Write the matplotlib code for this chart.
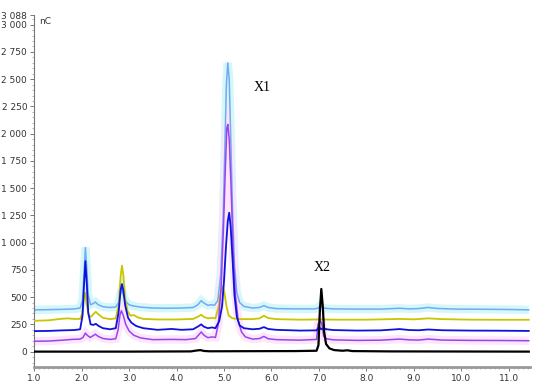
"""
Cromatogramma a cinque tracce (nC vs tempo di ritenzione, min).
Valori letti a occhio dal grafico di riferimento.
"""

import matplotlib.pyplot as plt
from matplotlib.ticker import FixedLocator, MultipleLocator

# (tempo, nC) per ogni traccia
cyan = [(1.0, 383), (1.3, 385), (1.6, 388), (1.85, 392), (1.97, 400), (2.02, 470),
        (2.05, 700), (2.08, 955), (2.11, 760), (2.14, 520), (2.19, 430), (2.24, 440),
        (2.29, 455), (2.35, 430), (2.45, 412), (2.6, 405), (2.72, 410), (2.78, 450),
        (2.82, 530), (2.85, 570), (2.88, 520), (2.93, 460), (3.0, 430), (3.1, 418),
        (3.25, 408), (3.5, 400), (3.8, 398), (4.1, 400), (4.35, 405), (4.45, 430),
        (4.52, 468), (4.58, 445), (4.66, 425), (4.74, 430), (4.8, 425), (4.87, 470),
        (4.93, 700), (4.98, 1200), (5.02, 1900), (5.05, 2450), (5.08, 2650), (5.11, 2500),
        (5.14, 2000), (5.18, 1300), (5.22, 800), (5.27, 540), (5.33, 450), (5.42, 415),
        (5.6, 400), (5.75, 405), (5.84, 422), (5.93, 405), (6.1, 395), (6.5, 392),
        (6.9, 392), (6.98, 398), (7.02, 420), (7.06, 410), (7.12, 398), (7.3, 392),
        (7.8, 390), (8.3, 390), (8.7, 398), (8.9, 392), (9.1, 395), (9.3, 405),
        (9.5, 396), (9.9, 390), (10.4, 389), (10.9, 387), (11.2, 385), (11.42, 383)]

yellow = [(1.0, 283), (1.3, 287), (1.55, 300), (1.7, 305), (1.85, 300), (1.97, 300),
          (2.02, 360), (2.05, 480), (2.08, 540), (2.11, 430), (2.15, 330), (2.2, 320),
          (2.25, 345), (2.3, 365), (2.36, 340), (2.45, 310), (2.6, 298), (2.72, 305),
          (2.78, 420), (2.82, 680), (2.85, 790), (2.88, 700), (2.92, 480), (2.97, 370),
          (3.03, 330), (3.1, 335), (3.18, 315), (3.3, 300), (3.6, 295), (4.0, 295),
          (4.35, 300), (4.45, 320), (4.52, 338), (4.58, 318), (4.66, 305), (4.75, 310),
          (4.82, 305), (4.88, 400), (4.93, 540), (4.97, 600), (5.01, 540), (5.05, 420),
          (5.1, 330), (5.18, 305), (5.35, 298), (5.6, 298), (5.75, 305), (5.84, 330),
          (5.93, 308), (6.1, 298), (6.6, 293), (7.0, 295), (7.4, 293), (8.0, 293),
          (8.7, 300), (9.0, 296), (9.3, 305), (9.6, 298), (10.2, 293), (10.8, 292),
          (11.42, 292)]

blue = [(1.0, 188), (1.3, 190), (1.6, 195), (1.85, 198), (1.97, 205), (2.02, 330),
        (2.05, 600), (2.08, 830), (2.11, 620), (2.14, 360), (2.19, 250), (2.25, 245),
        (2.3, 255), (2.36, 235), (2.45, 215), (2.6, 205), (2.72, 215), (2.78, 360),
        (2.82, 560), (2.85, 620), (2.88, 560), (2.92, 420), (2.98, 310), (3.05, 265),
        (3.15, 235), (3.3, 215), (3.6, 200), (3.9, 208), (4.1, 200), (4.35, 205),
        (4.45, 230), (4.52, 250), (4.58, 228), (4.66, 215), (4.75, 222), (4.82, 215),
        (4.9, 280), (4.96, 420), (5.0, 650), (5.04, 950), (5.08, 1200), (5.11, 1275),
        (5.14, 1150), (5.18, 850), (5.22, 520), (5.27, 320), (5.33, 240), (5.42, 215),
        (5.6, 205), (5.75, 210), (5.84, 225), (5.93, 208), (6.1, 200), (6.6, 193),
        (6.95, 195), (7.0, 225), (7.05, 205), (7.1, 215), (7.16, 205), (7.3, 198),
        (7.8, 193), (8.3, 195), (8.7, 207), (8.9, 198), (9.1, 196), (9.3, 203),
        (9.6, 196), (10.2, 193), (10.8, 192), (11.42, 190)]

purple = [(1.0, 95), (1.3, 97), (1.6, 105), (1.8, 112), (1.97, 115), (2.03, 130),
          (2.08, 170), (2.12, 150), (2.18, 130), (2.24, 145), (2.29, 160), (2.35, 140),
          (2.45, 120), (2.6, 112), (2.72, 118), (2.77, 200), (2.81, 340), (2.84, 375),
          (2.88, 330), (2.93, 250), (3.0, 190), (3.1, 150), (3.25, 125), (3.5, 110),
          (3.9, 112), (4.2, 110), (4.4, 120), (4.46, 150), (4.52, 180), (4.58, 150),
          (4.66, 128), (4.75, 135), (4.82, 130), (4.88, 250), (4.94, 600), (4.99, 1150),
          (5.03, 1700), (5.06, 2050), (5.08, 2085), (5.11, 1950), (5.15, 1500), (5.19, 950),
          (5.24, 520), (5.3, 280), (5.37, 180), (5.45, 135), (5.6, 115), (5.75, 120),
          (5.84, 140), (5.93, 118), (6.1, 110), (6.6, 105), (6.95, 112), (6.98, 250),
          (7.02, 285), (7.06, 260), (7.1, 140), (7.16, 118), (7.3, 108), (7.8, 103),
          (8.3, 105), (8.7, 115), (8.9, 108), (9.1, 106), (9.3, 115), (9.6, 106),
          (10.2, 103), (10.8, 102), (11.42, 100)]

black = [(1.0, 0), (3.0, 0), (4.3, 2), (4.42, 10), (4.5, 14), (4.58, 6), (4.7, 3),
         (5.5, 4), (6.5, 5), (6.95, 8), (6.99, 60), (7.02, 380), (7.05, 575), (7.08, 420),
         (7.11, 180), (7.15, 70), (7.22, 30), (7.32, 14), (7.5, 8), (7.6, 12), (7.7, 5),
         (8.5, 2), (11.42, 0)]

y_ticks = [0, 250, 500, 750, 1000, 1250, 1500, 1750, 2000, 2250, 2500, 2750, 3000, 3088]
x_ticks = [1.0, 2.0, 3.0, 4.0, 5.0, 6.0, 7.0, 8.0, 9.0, 10.0, 11.0]


def xy(trace):
    return [p[0] for p in trace], [p[1] for p in trace]


fig = plt.figure(figsize=(5.5, 3.87), dpi=100)
ax = fig.add_axes([0.062, 0.052, 0.902, 0.909])

# alone di selezione attorno a due tracce
ax.plot(*xy(cyan), color="#d4f7f9", linewidth=6, solid_capstyle="butt",
        solid_joinstyle="miter", zorder=1)
ax.plot(*xy(purple), color="#fbe6fb", linewidth=6, solid_capstyle="butt",
        solid_joinstyle="miter", zorder=1)

ax.plot(*xy(cyan), color="#74a9f4", linewidth=1.1, zorder=2)
ax.plot(*xy(yellow), color="#c9c600", linewidth=1.3, zorder=3)
ax.plot(*xy(purple), color="#9a44f0", linewidth=1.1, zorder=4)
ax.plot(*xy(blue), color="#1010e0", linewidth=1.3, zorder=5)
ax.plot(*xy(black), color="black", linewidth=1.6, zorder=6)

ax.text(5.62, 2390, "X1", family="Liberation Serif", fontsize=10)
ax.text(6.88, 740, "X2", family="Liberation Serif", fontsize=10)
ax.text(0.01, 0.995, "nC", transform=ax.transAxes, fontsize=6.5,
        color="#333333", va="top")

ax.set_xlim(1.0, 11.45)
ax.set_ylim(-140, 3088)

ax.yaxis.set_major_locator(FixedLocator(y_ticks))
ax.set_yticklabels([f"{v:,}".replace(",", " ") for v in y_ticks])
ax.yaxis.set_minor_locator(MultipleLocator(50))
ax.xaxis.set_major_locator(FixedLocator(x_ticks))
ax.set_xticklabels([f"{v:.1f}" for v in x_ticks])
ax.xaxis.set_minor_locator(MultipleLocator(0.1))

ax.tick_params(labelsize=6.5, labelcolor="#333333", color="#777777",
               length=3, width=0.7, pad=2)
ax.tick_params(which="minor", length=1.5, width=0.5, color="#999999")

for side in ("top", "right"):
    ax.spines[side].set_visible(False)
ax.spines["left"].set_color("#777777")
ax.spines["left"].set_linewidth(0.8)
ax.spines["bottom"].set_color("#999999")
ax.spines["bottom"].set_linewidth(2)

fig.savefig("out.png", dpi=100)
